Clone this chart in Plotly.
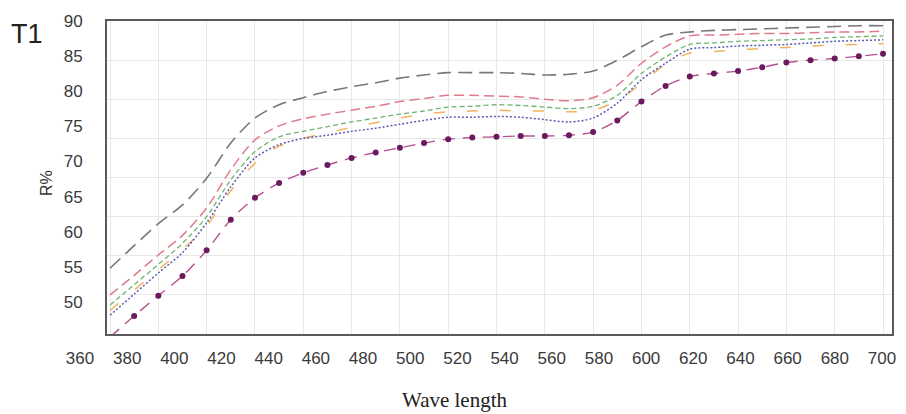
import plotly.graph_objects as go

# ---- data ----
wavelength = [380, 390, 400, 410, 420, 430, 440, 450, 460, 470, 480, 490, 500,
              510, 520, 530, 540, 550, 560, 570, 580, 590, 600, 610, 620, 630,
              640, 650, 660, 670, 680, 690, 700]

s_gray = [58.4, 61.3, 64.1, 66.5, 69.9, 74.4, 77.6, 79.3, 80.2, 81.0, 81.6, 82.1, 82.7,
          83.1, 83.4, 83.4, 83.4, 83.3, 83.1, 83.2, 83.6, 85.0, 86.7, 88.2, 88.6, 88.8,
          88.9, 89.0, 89.1, 89.2, 89.3, 89.4, 89.4]
s_pink = [55.0, 57.5, 60.1, 62.6, 66.1, 71.0, 74.8, 76.6, 77.5, 78.1, 78.6, 79.1, 79.7,
          80.1, 80.5, 80.5, 80.4, 80.3, 80.0, 79.8, 80.2, 81.8, 84.6, 86.7, 88.1, 88.2,
          88.3, 88.4, 88.4, 88.5, 88.6, 88.6, 88.7]
s_green = [53.7, 56.3, 58.9, 61.6, 65.0, 69.7, 73.3, 75.2, 75.9, 76.5, 77.1, 77.6, 78.1,
           78.5, 79.0, 79.1, 79.3, 79.2, 79.0, 78.8, 79.1, 80.5, 83.3, 85.4, 87.0, 87.2,
           87.4, 87.5, 87.6, 87.7, 87.9, 88.0, 88.1]
s_orange = [53.0, 55.6, 58.2, 60.8, 63.8, 68.3, 71.8, 74.0, 75.0, 75.7, 76.4, 77.0, 77.6,
            78.1, 78.4, 78.5, 78.6, 78.5, 78.5, 78.4, 78.6, 79.8, 82.0, 84.5, 85.9, 86.1,
            86.3, 86.5, 86.6, 86.8, 86.9, 87.0, 87.1]
s_blue = [52.4, 55.1, 57.8, 60.4, 64.2, 68.8, 72.5, 74.2, 75.0, 75.4, 75.9, 76.3, 76.8,
          77.3, 77.7, 77.7, 77.8, 77.7, 77.4, 77.1, 77.6, 79.5, 82.5, 84.6, 86.4, 86.6,
          86.8, 86.9, 87.0, 87.2, 87.4, 87.5, 87.6]
s_purple = [49.6, 52.3, 54.9, 57.4, 60.7, 64.6, 67.4, 69.3, 70.6, 71.6, 72.5, 73.2, 73.8,
            74.4, 74.9, 75.1, 75.2, 75.3, 75.3, 75.4, 75.8, 77.3, 79.7, 81.7, 82.9, 83.3,
            83.6, 84.1, 84.7, 85.0, 85.2, 85.5, 85.8]

# printed tick labels of the reference
x_tick_labels = [360, 380, 400, 420, 440, 460, 480, 500, 520, 540, 560, 580, 600,
                 620, 640, 660, 680, 700]
y_tick_labels = [50, 55, 60, 65, 70, 75, 80, 85, 90]

# ---- layout geometry (pixels of a 906x414 canvas) ----
W, H = 906, 414
PL, PR, PT, PB = 107, 892, 21, 334          # plot box
X0PX, X1PX = 110, 883                         # pixel of first/last wavelength
ppn = (X1PX - X0PX) / (wavelength[-1] - wavelength[0])
xr = [wavelength[0] - (X0PX - PL) / ppn, wavelength[-1] + (PR - X1PX) / ppn]

# printed x labels: 360 at px 80, 700 at px 882
LX0, LX1 = 80, 882
lppn = (LX1 - LX0) / (x_tick_labels[-1] - x_tick_labels[0])
X2L, X2R = 55, 900
x2r = [x_tick_labels[0] - (LX0 - X2L) / lppn, x_tick_labels[-1] + (X2R - LX1) / lppn]

# printed y labels: 90 at py 20.7, 55 at py 267
LY90, LY55 = 20.7, 267.0
lppu = (LY55 - LY90) / 35.0
Y2T, Y2B = 6, 334
y2r = [55 - (Y2B - LY55) / lppu, 90 + (LY90 - Y2T) / lppu]

fx = lambda p: p / W
fy = lambda p: 1 - p / H

fig = go.Figure()

def add(y, color, dash, width, name, **kw):
    fig.add_trace(go.Scatter(
        x=wavelength, y=y, mode=kw.pop("mode", "lines"), name=name,
        line=dict(color=color, dash=dash, width=width, shape="spline", smoothing=0.8),
        **kw))

add(s_gray, "#777777", "14px,7px", 1.6, "gray")
add(s_pink, "#e07b8c", "10px,5px", 1.5, "pink")
add(s_green, "#6db56d", "5px,3px", 1.3, "green")
add(s_orange, "#f2b35e", "11px,22px", 1.5, "orange")
add(s_blue, "#5b5bb0", "2px,2px", 1.5, "blue")
add(s_purple, "#b4508f", "12px,8px", 1.4, "purple", mode="lines+markers",
    marker=dict(color="#6b1a5e", size=6))

# invisible helper trace for the printed label axes
fig.add_trace(go.Scatter(x=[x_tick_labels[0], x_tick_labels[-1]],
                         y=[y_tick_labels[0], y_tick_labels[-1]],
                         xaxis="x2", yaxis="y2", mode="markers",
                         marker=dict(opacity=0), hoverinfo="skip", showlegend=False))

tickfont = dict(family="Liberation Sans, Arial, sans-serif", size=17, color="#3a3a3a")

fig.update_layout(
    width=W, height=H,
    margin=dict(l=0, r=0, t=0, b=0),
    paper_bgcolor="white", plot_bgcolor="rgba(0,0,0,0)",
    showlegend=False,
    xaxis=dict(domain=[fx(PL), fx(PR)], range=xr, tick0=380, dtick=20,
               showgrid=True, gridcolor="#e8e8e8", gridwidth=1,
               showticklabels=False, ticks="", zeroline=False,
               showline=True, mirror=True, linecolor="#5a5a5a", linewidth=1.5),
    yaxis=dict(domain=[fy(PB), fy(PT)], range=[50, 90], tick0=50, dtick=5,
               showgrid=True, gridcolor="#e8e8e8", gridwidth=1,
               showticklabels=False, ticks="", zeroline=False,
               showline=True, mirror=True, linecolor="#5a5a5a", linewidth=1.5),
    xaxis2=dict(domain=[fx(X2L), fx(X2R)], range=x2r, anchor="free", position=fy(PB),
                tickmode="array", tickvals=x_tick_labels,
                ticktext=[str(v) for v in x_tick_labels],
                showgrid=False, zeroline=False, showline=False,
                ticks="outside", ticklen=9, tickcolor="rgba(0,0,0,0)",
                tickfont=tickfont),
    yaxis2=dict(domain=[fy(Y2B), fy(Y2T)], range=y2r, anchor="free", position=fx(PL),
                tickmode="array", tickvals=y_tick_labels,
                ticktext=[str(v) for v in y_tick_labels],
                showgrid=False, zeroline=False, showline=False,
                ticks="outside", ticklen=21, tickcolor="rgba(0,0,0,0)",
                tickfont=tickfont),
    annotations=[
        dict(text="T1", x=fx(9), y=fy(34), xref="paper", yref="paper",
             xanchor="left", yanchor="middle", showarrow=False,
             font=dict(family="Liberation Sans, Arial, sans-serif", size=27, color="#222222")),
        dict(text="R%", x=fx(47), y=fy(183), xref="paper", yref="paper",
             xanchor="center", yanchor="middle", showarrow=False, textangle=-90,
             font=dict(family="Liberation Sans, Arial, sans-serif", size=16, color="#333333")),
        dict(text="Wave length", x=fx(455), y=fy(400), xref="paper", yref="paper",
             xanchor="center", yanchor="middle", showarrow=False,
             font=dict(family="Liberation Serif, Times New Roman, serif", size=21, color="#222222")),
    ],
)

fig.write_html("out.html", config={"displayModeBar": False},
               post_script="document.body.style.margin='0';document.body.style.overflow='hidden';")
